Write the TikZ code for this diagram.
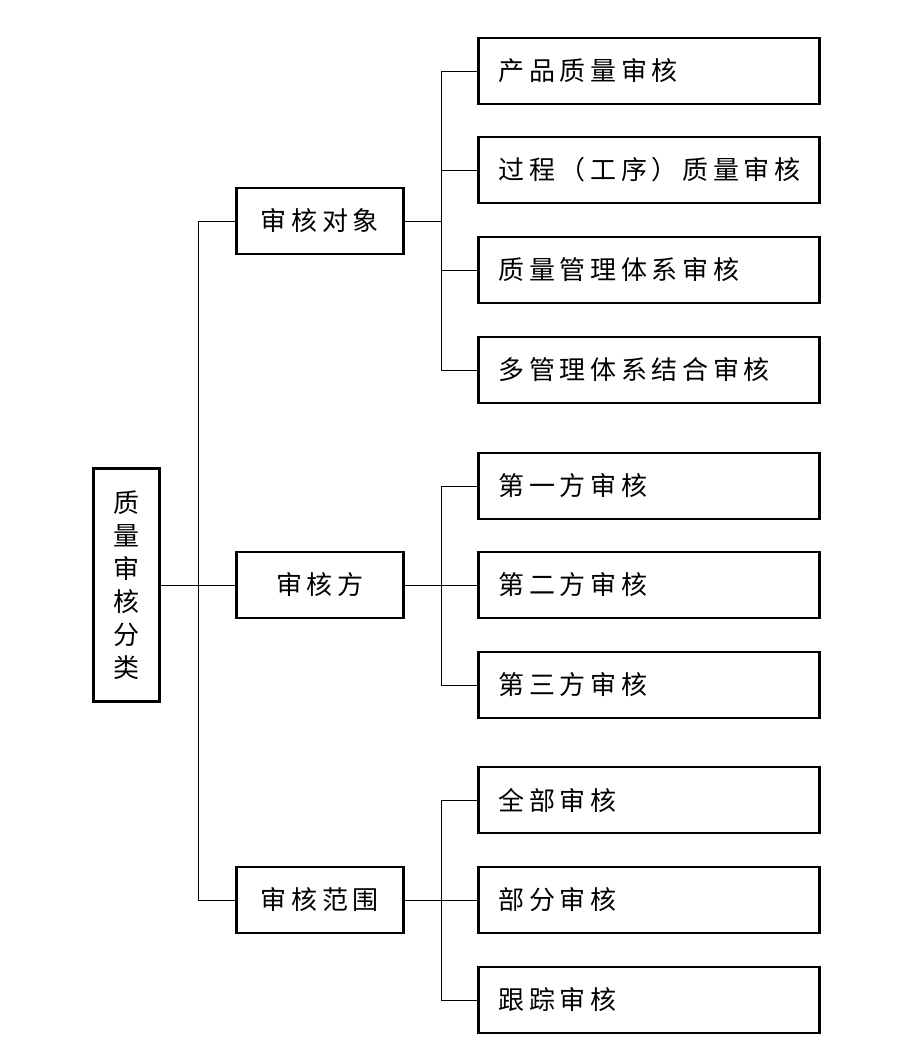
\documentclass[tikz,border=0pt]{standalone}
\usepackage{fontspec}
\newfontfamily\cjk{Noto Sans CJK SC}[LetterSpace=18]
\usepackage{tikz}
\usetikzlibrary{positioning, calc}

\begin{document}
\begin{tikzpicture}[
    x=1pt, y=-1pt,
    box/.style={rectangle, draw, line width=2.6pt, inner sep=0pt, font=\cjk\fontsize{26}{33}\selectfont},
    rootbox/.style={box, minimum width=66pt, minimum height=233pt, align=center},
    midbox/.style={box, minimum width=167pt, minimum height=66pt},
    leaf/.style={box, minimum width=341pt, minimum height=66pt, text width=301pt, inner xsep=20pt, align=left},
    link/.style={draw, line width=0.9pt}
]
\useasboundingbox (0,0) rectangle (897,1053);

% root
\node[rootbox] (root) at (126.5,585) {质\\量\\审\\核\\分\\类};

% second level
\node[midbox] (obj) at (320,221) {审核对象};
\node[midbox] (party) at (320,585) {审核方};
\node[midbox] (range) at (320,900) {审核范围};

% leaves: audit object
\node[leaf] (prod) at (649,71) {产品质量审核};
\node[leaf] (proc) at (649,170) {过程（工序）质量审核};
\node[leaf] (qms) at (649,270) {质量管理体系审核};
\node[leaf] (multi) at (649,370) {多管理体系结合审核};

% leaves: audit party
\node[leaf] (first) at (649,486) {第一方审核};
\node[leaf] (second) at (649,585) {第二方审核};
\node[leaf] (third) at (649,685) {第三方审核};

% leaves: audit range
\node[leaf] (full) at (649,800) {全部审核};
\node[leaf] (part) at (649,900) {部分审核};
\node[leaf] (track) at (649,1000) {跟踪审核};

% bus positions
\coordinate (busL) at (198,0);
\coordinate (busR) at (441,0);

% root -> second level
\draw[link] (root.east) -- (party.west);
\draw[link] (obj.west) -- (obj.west -| busL) -- (range.west -| busL) -- (range.west);

% second level -> leaves
\draw[link] (obj.east) -- (obj.east -| busR);
\draw[link] (prod.west) -- (prod.west -| busR) -- (multi.west -| busR) -- (multi.west);
\foreach \n in {proc, qms}
    \draw[link] (\n.west -| busR) -- (\n.west);

\draw[link] (party.east) -- (second.west);
\draw[link] (first.west) -- (first.west -| busR) -- (third.west -| busR) -- (third.west);

\draw[link] (range.east) -- (part.west);
\draw[link] (full.west) -- (full.west -| busR) -- (track.west -| busR) -- (track.west);

\end{tikzpicture}
\end{document}
